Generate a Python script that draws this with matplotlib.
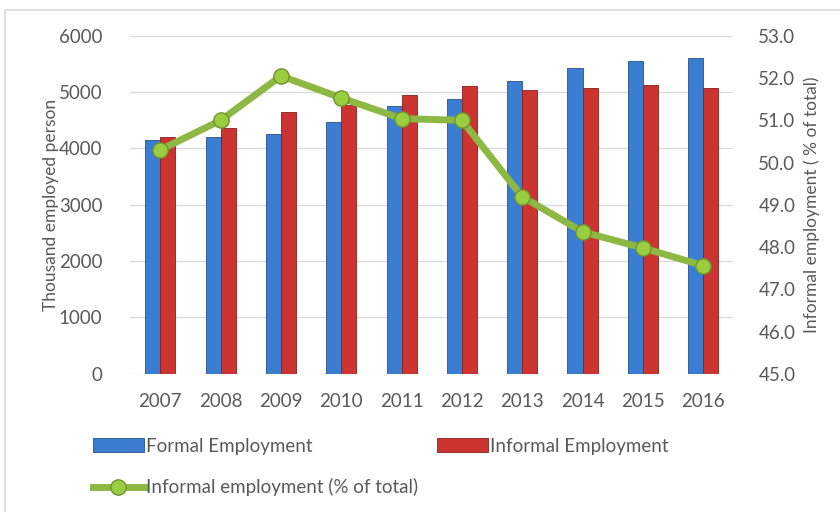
import matplotlib.pyplot as plt
import numpy as np
from matplotlib.patches import Rectangle

plt.rcParams['font.family'] = ['Lato', 'DejaVu Sans']

# Data
years = ['2007', '2008', '2009', '2010', '2011', '2012', '2013', '2014', '2015', '2016']
formal = [4150, 4210, 4260, 4475, 4760, 4885, 5200, 5435, 5560, 5610]
informal = [4210, 4370, 4650, 4780, 4955, 5115, 5030, 5080, 5135, 5080]
informal_pct = [50.3, 51.0, 52.05, 51.53, 51.04, 51.0, 49.19, 48.36, 47.98, 47.56]

text_grey = '#595959'
blue = '#3b7dd0'
blue_edge = '#24528f'
red = '#cc3431'
red_edge = '#8a1f1d'
green = '#8db844'
green_edge = '#6e9330'
fs = 13.5

fig = plt.figure(figsize=(8.4, 5.12), dpi=100)
ax = fig.add_axes([0.155, 0.27, 0.718, 0.66])

x = np.arange(len(years))
w = 0.25
ax.bar(x - w / 2, formal, w, color=blue, edgecolor=blue_edge, linewidth=0.6,
       label='Formal Employment', zorder=2)
ax.bar(x + w / 2, informal, w, color=red, edgecolor=red_edge, linewidth=0.6,
       label='Informal Employment', zorder=2)

ax.set_xlim(-0.5, len(years) - 0.5)
ax.set_ylim(0, 6000)
ax.set_yticks(range(0, 6001, 1000))
ax.set_xticks(x)
ax.set_xticklabels(years)
ax.grid(axis='y', color='#d9d9d9', linewidth=0.9, zorder=0)
ax.set_axisbelow(True)
for s in ax.spines.values():
    s.set_visible(False)
ax.tick_params(length=0, colors=text_grey, labelsize=fs)
ax.tick_params(axis='y', pad=20)
ax.tick_params(axis='x', pad=14)
ax.set_ylabel('Thousand employed person', color=text_grey, fontsize=12.5, labelpad=0)

# Share of informal employment on the right axis
ax2 = ax.twinx()
ax2.plot(x, informal_pct, color=green, linewidth=5, marker='o', markersize=11,
         markerfacecolor='#9acd3f', markeredgecolor=green_edge, markeredgewidth=1,
         label='Informal employment (% of total)', zorder=3)
ax2.set_ylim(45, 53)
ax2.set_yticks(np.arange(45, 53.1, 1))
ax2.set_yticklabels([f'{v:.1f}' for v in np.arange(45, 53.1, 1)])
for s in ax2.spines.values():
    s.set_visible(False)
ax2.tick_params(length=0, colors=text_grey, labelsize=fs, pad=18)
ax2.set_ylabel('Informal employment ( % of total)', color=text_grey, fontsize=12.5, labelpad=6)

# Legend below the chart
h1, l1 = ax.get_legend_handles_labels()
h2, l2 = ax2.get_legend_handles_labels()
handles = [h1[0], h2[0], h1[1]]
labels = [l1[0], l2[0], l1[1]]
leg = fig.legend(handles, labels, ncol=2, loc='upper left', bbox_to_anchor=(0.102, 0.16),
                 frameon=False, fontsize=fs, handlelength=2.7, handletextpad=0.1,
                 columnspacing=1.05, labelspacing=1.25, borderaxespad=0)
for t in leg.get_texts():
    t.set_color(text_grey)

# Light frame around the chart
fig.patches.append(Rectangle((0.006, -0.01), 1.1, 0.99, transform=fig.transFigure,
                             fill=False, edgecolor='#d9d9d9', linewidth=1.2))

fig.savefig('out.png', dpi=100)
